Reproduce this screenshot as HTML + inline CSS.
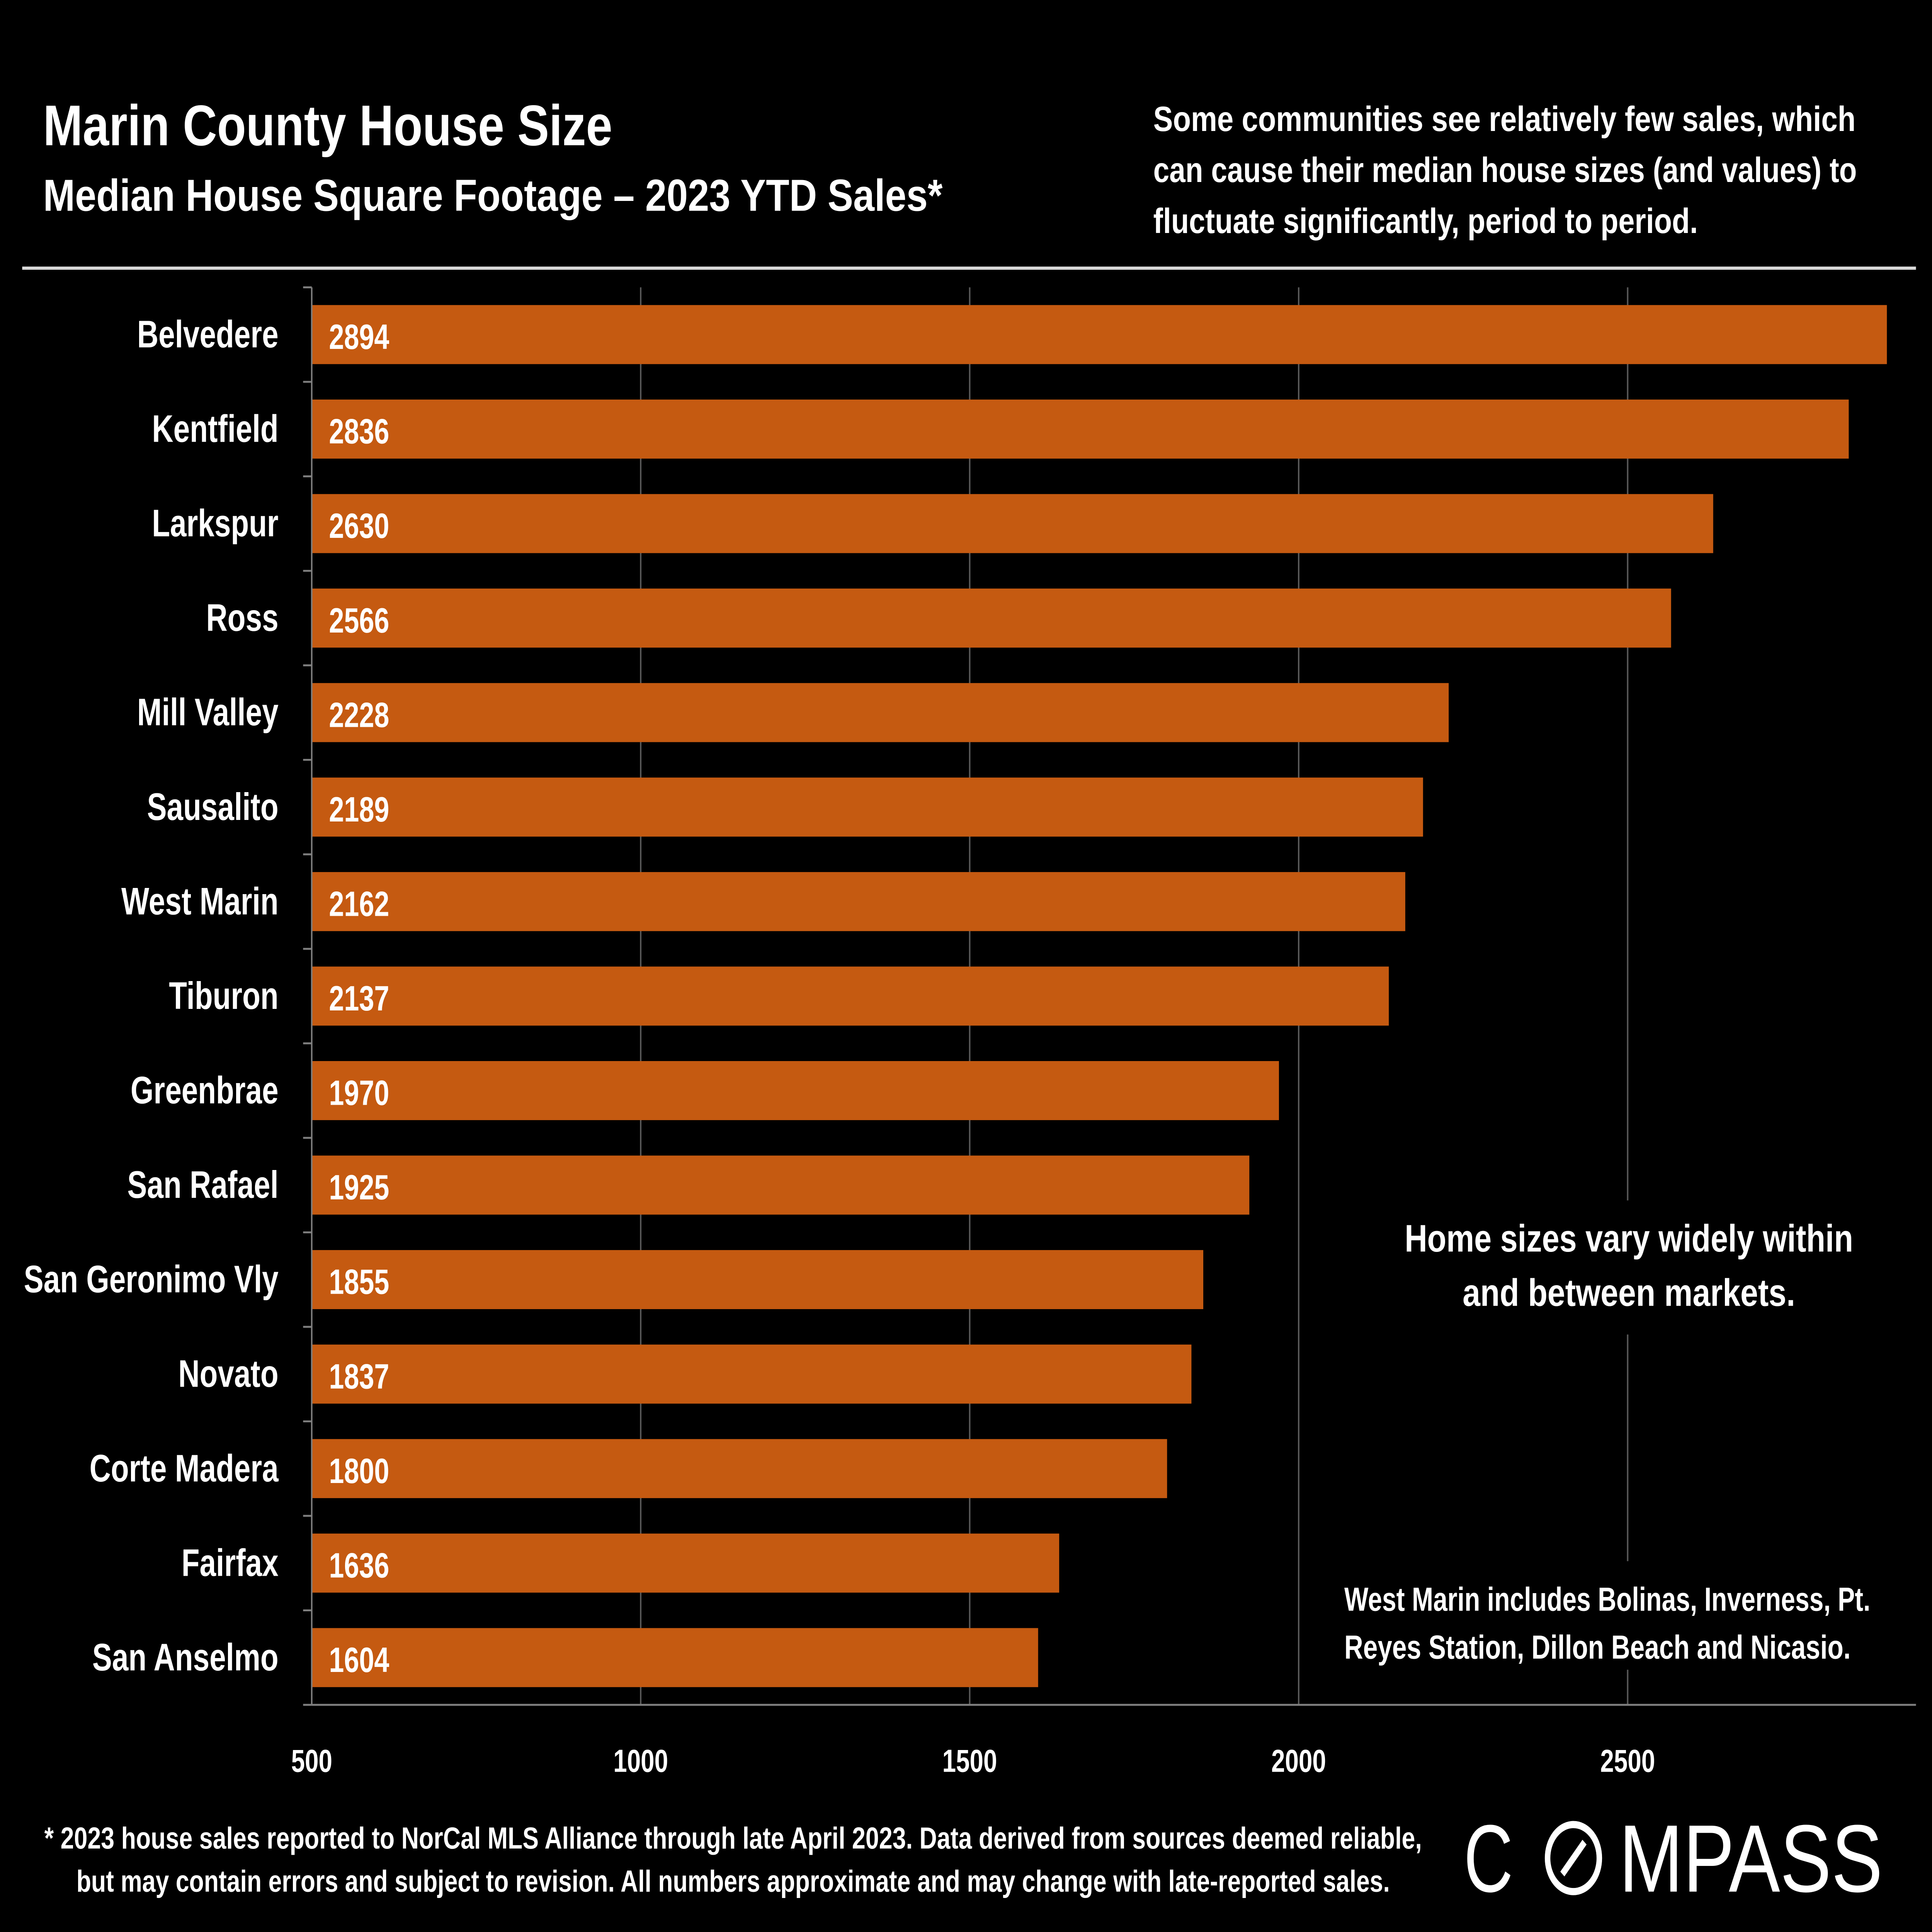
<!DOCTYPE html>
<html><head><meta charset="utf-8">
<style>
html,body{margin:0;padding:0;background:#000;width:100%;height:100%;overflow:hidden;}
svg{display:block;width:100vw;height:100vh;position:fixed;left:0;top:0;}
text{font-family:"Liberation Sans",sans-serif;font-weight:bold;fill:#fff;}
</style></head>
<body>
<svg id="chart" viewBox="0 0 1568 1210.3" preserveAspectRatio="none" xmlns="http://www.w3.org/2000/svg">
<rect x="0" y="0" width="1568" height="1211" fill="#000"/>
<text x="35" y="91" font-size="36" textLength="462" lengthAdjust="spacingAndGlyphs">Marin County House Size</text>
<text x="35" y="132" font-size="28" textLength="730" lengthAdjust="spacingAndGlyphs">Median House Square Footage – 2023 YTD Sales*</text>
<g>
<text x="936" y="82" font-size="22" textLength="570" lengthAdjust="spacingAndGlyphs">Some communities see relatively few sales, which</text>
<text x="936" y="114" font-size="22" textLength="571" lengthAdjust="spacingAndGlyphs">can cause their median house sizes (and values) to</text>
<text x="936" y="146" font-size="22" textLength="442" lengthAdjust="spacingAndGlyphs">fluctuate significantly, period to period.</text>
</g>
<line x1="18" y1="168" x2="1555" y2="168" stroke="#d9d9d9" stroke-width="2"/>
<g id="grid"></g>
<g id="bars"></g>
<g id="axis"></g>
<g>
<rect x="1135" y="752" width="375" height="84" fill="#000"/>
<text x="1322" y="784" font-size="24" text-anchor="middle" textLength="364" lengthAdjust="spacingAndGlyphs">Home sizes vary widely within</text>
<text x="1322" y="818" font-size="24" text-anchor="middle" textLength="270" lengthAdjust="spacingAndGlyphs">and between markets.</text>
</g>
<g>
<rect x="1085" y="978" width="440" height="68" fill="#000"/>
<text x="1091" y="1009" font-size="21" textLength="427" lengthAdjust="spacingAndGlyphs">West Marin includes Bolinas, Inverness, Pt.</text>
<text x="1091" y="1039" font-size="21" textLength="411" lengthAdjust="spacingAndGlyphs">Reyes Station, Dillon Beach and Nicasio.</text>
</g>
<g>
<text x="595" y="1158" font-size="19" text-anchor="middle" textLength="1118" lengthAdjust="spacingAndGlyphs">* 2023 house sales reported to NorCal MLS Alliance through late April 2023. Data derived from sources deemed reliable,</text>
<text x="595" y="1185" font-size="19" text-anchor="middle" textLength="1066" lengthAdjust="spacingAndGlyphs">but may contain errors and subject to revision. All numbers approximate and may change with late-reported sales.</text>
</g>
<g>
<text x="1188" y="1185" font-size="60" style="font-weight:normal" textLength="40" lengthAdjust="spacingAndGlyphs">C</text>
<circle cx="1277" cy="1164" r="21" fill="none" stroke="#fff" stroke-width="4.5"/>
<line x1="1268" y1="1174" x2="1286" y2="1154" stroke="#fff" stroke-width="4.5"/>
<text x="1314" y="1185" font-size="60" style="font-weight:normal" textLength="214" lengthAdjust="spacingAndGlyphs">MPASS</text>
</g>
</svg>
<script>
const categories = ["Belvedere","Kentfield","Larkspur","Ross","Mill Valley","Sausalito","West Marin","Tiburon","Greenbrae","San Rafael","San Geronimo Vly","Novato","Corte Madera","Fairfax","San Anselmo"];
const values = [2894,2836,2630,2566,2228,2189,2162,2137,1970,1925,1855,1837,1800,1636,1604];
const xTicks = [500,1000,1500,2000,2500];
const xMin = 500;
const NS = "http://www.w3.org/2000/svg";
const plotLeft = 253, pxPerUnit = 0.534, plotTop = 180, plotBottom = 1068;
const step = (plotBottom - plotTop) / categories.length;
const barH = 37;
function xScale(v){ return plotLeft + (v - xMin) * pxPerUnit; }
function yCenter(i){ return plotTop + step * (i + 0.5); }
function mk(tag, attrs, parent){ const e=document.createElementNS(NS,tag); for(const k in attrs) e.setAttribute(k,attrs[k]); parent.appendChild(e); return e; }
const grid = document.getElementById('grid'), bars = document.getElementById('bars'), axis = document.getElementById('axis');
xTicks.forEach(t=>{
  if (t === xMin) return;
  const l = mk('line',{x1:xScale(t),x2:xScale(t),y1:plotTop,y2:plotBottom,stroke:'#595959','stroke-width':1.2},grid);
  
  
});
categories.forEach((c,i)=>{
  const y = yCenter(i);
  const r = mk('rect',{x:plotLeft,y:y-barH/2,width:xScale(values[i])-plotLeft,height:barH,fill:'#C55A11'},bars);
  
  
  const v = mk('text',{x:plotLeft+14,y:y+9,'font-size':22},bars);
  v.textContent = values[i];
  
  
  const lb = mk('text',{x:226,y:y+8,'font-size':24,'text-anchor':'end'},axis);
  lb.textContent = c;
  
  
});
for(let i=0;i<=categories.length;i++){
  const y = plotTop + step*i;
  const tk = mk('line',{x1:plotLeft-7,x2:plotLeft,y1:y,y2:y,stroke:'#7f7f7f','stroke-width':1.2},axis);
  
  
}
const ya = mk('line',{x1:plotLeft,x2:plotLeft,y1:plotTop,y2:plotBottom,stroke:'#7f7f7f','stroke-width':1.2},axis);


const xa = mk('line',{x1:plotLeft,x2:1555,y1:plotBottom,y2:plotBottom,stroke:'#7f7f7f','stroke-width':1.2},axis);


xTicks.forEach(t=>{
  const tl = mk('text',{x:xScale(t),y:1110,'font-size':20,'text-anchor':'middle'},axis);
  tl.textContent = t;
  
  
});
</script>
</body></html>
